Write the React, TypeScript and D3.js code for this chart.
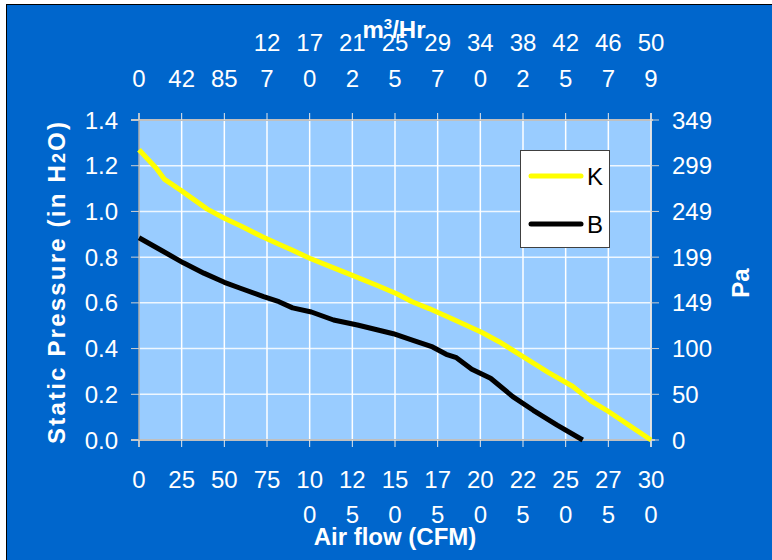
import React from "react";
import * as d3 from "d3";

// Air flow (CFM) vs static pressure (in H2O)
const seriesK: [number, number][] = [
  [0, 1.27], [10, 1.19], [15, 1.14], [25, 1.09], [40, 1.01], [50, 0.97],
  [60, 0.935], [72, 0.89], [81, 0.86], [90, 0.83], [100, 0.795], [110, 0.765],
  [125, 0.72], [140, 0.675], [151, 0.64], [160, 0.605], [170, 0.575],
  [185, 0.525], [201, 0.47], [211, 0.43], [225, 0.365], [240, 0.295],
  [254, 0.235], [265, 0.17], [274, 0.13], [287, 0.065], [300, 0.0],
];
const seriesB: [number, number][] = [
  [0, 0.885], [13, 0.83], [26, 0.775], [38, 0.73], [50, 0.69], [59, 0.665],
  [73, 0.627], [82, 0.605], [90, 0.578], [101, 0.56], [114, 0.525],
  [128, 0.503], [149, 0.465], [161, 0.435], [172, 0.407], [180, 0.375],
  [186, 0.36], [195, 0.31], [206, 0.27], [219, 0.19], [231, 0.13],
  [245, 0.065], [260, 0.0],
];
const seriesNames = ["K", "B"];
const seriesColors = ["#ffff00", "#000000"];

const cfmTicks = [0, 25, 50, 75, 100, 125, 150, 175, 200, 225, 250, 275, 300];
const cfmLabels = ["0", "25", "50", "75", "100", "125", "150", "175", "200", "225", "250", "275", "300"];
const m3hLabels = ["0", "42", "85", "127", "170", "212", "255", "297", "340", "382", "425", "467", "509"];
const inH2OTicks = [0, 0.2, 0.4, 0.6, 0.8, 1.0, 1.2, 1.4];
const paLabels = ["0", "50", "100", "149", "199", "249", "299", "349"];

const W = 772;
const H = 560;
const FONT = "'Liberation Sans', Arial, sans-serif";
const BLUE = "#0066cc";
const PLOT = "#99ccff";

const x = d3.scaleLinear().domain([0, 300]).range([139, 651]);
const y = d3.scaleLinear().domain([0, 1.4]).range([440, 120]);

const wrap = (s: string) => (s.length >= 3 ? [s.slice(0, 2), s.slice(2)] : [s]);

export default function App() {
  const line = d3
    .line<[number, number]>()
    .x((d) => x(d[0]))
    .y((d) => y(d[1]))
    .curve(d3.curveLinear);

  const [x0, x1] = x.range();
  const [yb, yt] = y.range();

  return (
    <svg
      width={W}
      height={H}
      style={{ position: "absolute", left: 0, top: 0, background: "#fff" }}
      fontFamily={FONT}
    >
      <rect x={6.5} y={4.5} width={W + 10} height={H + 10} fill={BLUE} stroke="#000" strokeWidth={1} />
      {/* plot area */}
      <rect x={x0} y={yt} width={x1 - x0} height={yb - yt} fill={PLOT} />
      {/* grid */}
      {cfmTicks.slice(1).map((t) => (
        <line key={"gx" + t} x1={x(t)} x2={x(t)} y1={yt} y2={yb} stroke="#ffffff" strokeWidth={1.5} />
      ))}
      {inH2OTicks.slice(1).map((t) => (
        <line key={"gy" + t} x1={x0} x2={x1} y1={y(t)} y2={y(t)} stroke="#ffffff" strokeWidth={1.5} opacity={0.85} />
      ))}
      {/* axes lines */}
      <line x1={x0 - 8} x2={x1 + 2} y1={yt} y2={yt} stroke="#c0c0c0" strokeWidth={2} />
      <line x1={x0 - 8} x2={x1 + 4} y1={yb} y2={yb} stroke="#c0c0c0" strokeWidth={2} />
      <line x1={x0} x2={x0} y1={yt - 7} y2={yb + 7} stroke="#b0b0b0" strokeWidth={1.5} />
      <line x1={x1} x2={x1} y1={yt - 7} y2={yb + 7} stroke="#e0e0e0" strokeWidth={1.5} />
      {/* ticks */}
      {cfmTicks.map((t) => (
        <g key={"tx" + t}>
          <line x1={x(t)} x2={x(t)} y1={yt - 7} y2={yt} stroke="#e8e8e8" strokeWidth={1} />
          <line x1={x(t)} x2={x(t)} y1={yb} y2={yb + 7} stroke="#e8e8e8" strokeWidth={1} />
        </g>
      ))}
      {inH2OTicks.map((t) => (
        <g key={"ty" + t}>
          <line x1={x0 - 8} x2={x0} y1={y(t)} y2={y(t)} stroke="#d0d0d0" strokeWidth={1} />
          <line x1={x1} x2={x1 + 8} y1={y(t)} y2={y(t)} stroke="#d0d0d0" strokeWidth={1} />
        </g>
      ))}
      {/* series */}
      <path d={line(seriesK) ?? ""} fill="none" stroke={seriesColors[0]} strokeWidth={5} strokeLinejoin="round" />
      <path d={line(seriesB) ?? ""} fill="none" stroke={seriesColors[1]} strokeWidth={5} strokeLinejoin="round" />

      {/* left labels */}
      {inH2OTicks.map((t) => (
        <text key={"ly" + t} x={118} y={y(t) + 8.5} fill="#fff" fontSize={24} textAnchor="end">
          {t.toFixed(1)}
        </text>
      ))}
      {/* right labels */}
      {inH2OTicks.map((t, i) => (
        <text key={"ry" + t} x={672} y={y(t) + 8.5} fill="#fff" fontSize={24} textAnchor="start">
          {paLabels[i]}
        </text>
      ))}
      {/* bottom labels */}
      {cfmTicks.map((t, i) =>
        wrap(cfmLabels[i]).map((s, j) => (
          <text key={"bx" + t + j} x={x(t)} y={488 + j * 35} fill="#fff" fontSize={24} textAnchor="middle">
            {s}
          </text>
        ))
      )}
      {/* top labels */}
      {cfmTicks.map((t, i) => {
        const ls = wrap(m3hLabels[i]);
        return ls.map((s, j) => (
          <text key={"tx" + t + j} x={x(t)} y={87 - (ls.length - 1 - j) * 36} fill="#fff" fontSize={24} textAnchor="middle">
            {s}
          </text>
        ));
      })}
      {/* titles */}
      <text x={395} y={545} fill="#fff" fontSize={24} fontWeight="bold" textAnchor="middle">
        Air flow (CFM)
      </text>
      <text x={394} y={38} fill="#fff" fontSize={24} fontWeight="bold" textAnchor="middle">
        m<tspan fontSize={15} dy={-9}>3</tspan><tspan dy={9}>/Hr</tspan>
      </text>
      <text
        transform="translate(65,283) rotate(-90)"
        fill="#fff"
        fontSize={24}
        fontWeight="bold"
        textAnchor="middle"
        textLength={322}
        lengthAdjust="spacing"
      >
        Static Pressure (in H<tspan fontSize={18}>2</tspan>O)
      </text>
      <text transform="translate(749,283) rotate(-90)" fill="#fff" fontSize={24} fontWeight="bold" textAnchor="middle">
        Pa
      </text>

      {/* legend */}
      <rect x={520.5} y={150.5} width={89} height={97} fill="#fff" stroke="#404040" strokeWidth={1} />
      {seriesNames.map((n, i) => (
        <g key={n}>
          <line x1={531} x2={581} y1={176 + i * 48} y2={176 + i * 48} stroke={seriesColors[i]} strokeWidth={5} strokeLinecap="round" />
          <text x={587} y={176 + i * 48 + 8.5} fontSize={24} fill="#000">
            {n}
          </text>
        </g>
      ))}
    </svg>
  );
}
